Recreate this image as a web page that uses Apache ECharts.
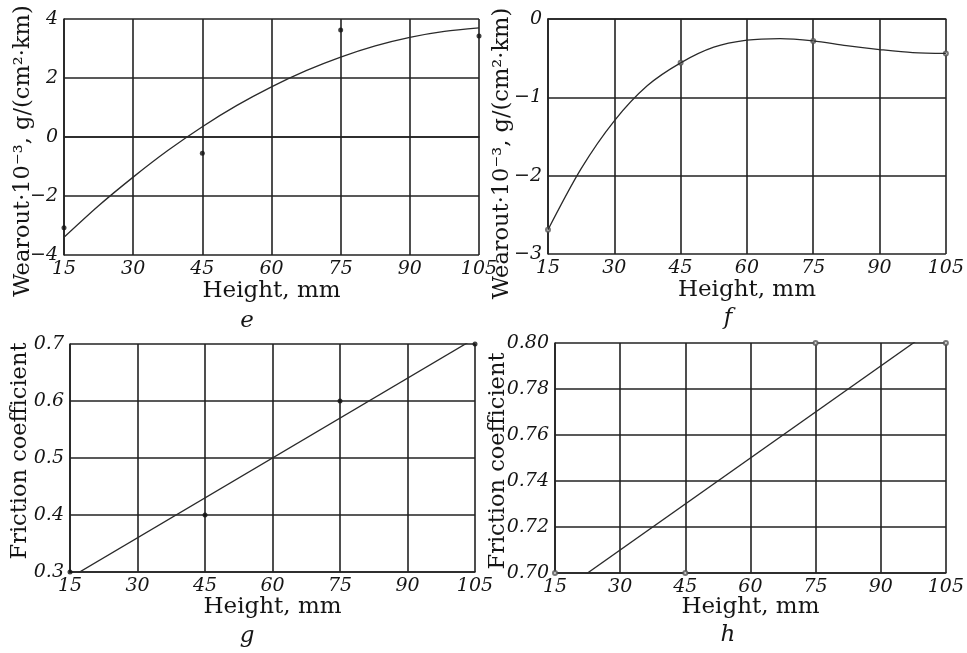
<!DOCTYPE html>
<html>
<head>
<meta charset="utf-8">
<script src="https://cdn.jsdelivr.net/npm/echarts@6/dist/echarts.min.js"></script>
<style>html,body{margin:0;padding:0;background:#fff}#c{width:967px;height:653px}</style>
</head>
<body>
<div id="c"></div>
<script>
// ---- data ----
const xTicks = [15, 30, 45, 60, 75, 90, 105];
const measuredHeights = [15, 45, 75, 105];
const curveHeights = [15, 22.5, 30, 37.5, 45, 52.5, 60, 67.5, 75, 82.5, 90, 97.5, 105];

// panel e: wearout
const eMeasured = [-3.08, -0.55, 3.63, 3.42];
const eCurve = [-3.40, -2.33, -1.36, -0.46, 0.35, 1.07, 1.70, 2.25, 2.71, 3.09, 3.38, 3.58, 3.70];
const eTicks = [-4, -2, 0, 2, 4];

// panel f: wearout
const fMeasured = [-2.69, -0.56, -0.28, -0.44];
const fCurve = [-2.69, -1.91, -1.30, -0.85, -0.56, -0.36, -0.27, -0.25, -0.28, -0.34, -0.39, -0.43, -0.44];
const fTicks = [-3, -2, -1, 0];

// panel g: friction coefficient
const gMeasured = [0.30, 0.40, 0.60, 0.70];
const gTrendHeights = [15, 105];
const gTrend = [0.29, 0.71];
const gTicks = [0.3, 0.4, 0.5, 0.6, 0.7];

// panel h: friction coefficient
const hMeasured = [0.70, 0.70, 0.80, 0.80];
const hTrendHeights = [15, 105];
const hTrend = [0.69, 0.81];
const hTicks = [0.70, 0.72, 0.74, 0.76, 0.78, 0.80];

const panelLetters = ['e', 'f', 'g', 'h'];
const xName = 'Height, mm';
const wearName = 'Wearout\u00B710\u207B\u00B3, g/(cm\u00B2\u00B7km)';
const fricName = 'Friction coefficient';

// ---- styling ----
const FONT = '"DejaVu Serif", serif';
const INK = '#151515';
const GRIDC = '#222';
const pair = (xs, ys) => xs.map((x, i) => [x, ys[i]]);
const fmtMinus = (d) => (v) => {
  const s = v.toFixed(d);
  return s.replace('-', '\u2212');
};

const grids = [
  {left: 64, top: 19, width: 415, height: 236},
  {left: 548, top: 19, width: 410, height: 235},
  {left: 70, top: 344, width: 405, height: 228},
  {left: 555, top: 343, width: 402, height: 230}
];

function xAxis(i, gap) {
  return {
    type: 'value', gridIndex: i, min: 15, max: 105, interval: 15,
    name: xName, nameLocation: 'middle', nameGap: gap, nameMoveOverlap: false,
    nameTextStyle: {fontFamily: FONT, fontSize: 23, color: INK},
    axisLine: {show: true, lineStyle: {color: GRIDC, width: 1.6}},
    axisTick: {show: false},
    axisLabel: {fontFamily: FONT, fontStyle: 'italic', fontSize: 19, color: INK, margin: 5},
    splitLine: {show: true, lineStyle: {color: GRIDC, width: 1.6}}
  };
}
function yAxis(i, ticks, dec, name, gap, pad) {
  return {
    type: 'value', gridIndex: i, min: ticks[0], max: ticks[ticks.length - 1],
    interval: +(ticks[1] - ticks[0]).toFixed(4),
    name: name, nameLocation: 'middle', nameGap: gap, nameRotate: 90, nameMoveOverlap: false,
    nameTextStyle: {fontFamily: FONT, fontSize: 22.5, color: INK, padding: pad},
    axisLine: {show: true, onZero: false, lineStyle: {color: GRIDC, width: 1.6}},
    axisTick: {show: false},
    axisLabel: {fontFamily: FONT, fontStyle: 'italic', fontSize: 19, color: INK, margin: 6,
      formatter: fmtMinus(dec)},
    splitLine: {show: true, lineStyle: {color: GRIDC, width: 1.6}}
  };
}

const lineStyle = {color: '#2a2a2a', width: 1.3};
const series = [
  {type: 'line', xAxisIndex: 0, yAxisIndex: 0, data: pair(curveHeights, eCurve), smooth: 0.3,
   showSymbol: false, lineStyle: lineStyle},
  {type: 'scatter', xAxisIndex: 0, yAxisIndex: 0, data: pair(measuredHeights, eMeasured),
   symbol: 'circle', symbolSize: 5, itemStyle: {color: '#111'}},
  {type: 'line', xAxisIndex: 1, yAxisIndex: 1, data: pair(curveHeights, fCurve), smooth: 0.3,
   showSymbol: false, lineStyle: lineStyle},
  {type: 'scatter', xAxisIndex: 1, yAxisIndex: 1, data: pair(measuredHeights, fMeasured),
   symbol: 'emptyCircle', symbolSize: 4, itemStyle: {color: '#555', borderWidth: 1}},
  {type: 'line', xAxisIndex: 2, yAxisIndex: 2, data: pair(gTrendHeights, gTrend),
   showSymbol: false, lineStyle: lineStyle, clip: true},
  {type: 'scatter', xAxisIndex: 2, yAxisIndex: 2, data: pair(measuredHeights, gMeasured),
   symbol: 'circle', symbolSize: 5, itemStyle: {color: '#111'}, clip: false},
  {type: 'line', xAxisIndex: 3, yAxisIndex: 3, data: pair(hTrendHeights, hTrend),
   showSymbol: false, lineStyle: lineStyle, clip: true},
  {type: 'scatter', xAxisIndex: 3, yAxisIndex: 3, data: pair(measuredHeights, hMeasured),
   symbol: 'emptyCircle', symbolSize: 4, itemStyle: {color: '#555', borderWidth: 1}, clip: false}
];

const letterPos = [[247, 321], [728, 318], [247, 636], [728, 635]];
const graphic = panelLetters.map((t, i) => ({
  type: 'text', x: letterPos[i][0], y: letterPos[i][1],
  style: {text: t, font: 'italic 23px ' + FONT, fill: INK, align: 'center', verticalAlign: 'middle'}
}));

const chart = echarts.init(document.getElementById('c'), null, {renderer: 'canvas'});
chart.setOption({
  animation: false,
  backgroundColor: '#fff',
  grid: grids,
  xAxis: [xAxis(0, 25), xAxis(1, 25), xAxis(2, 24), xAxis(3, 23)],
  yAxis: [
    yAxis(0, eTicks, 0, wearName, 29, [0, 28, 0, 0]),
    yAxis(1, fTicks, 0, wearName, 34, [0, 34, 0, 0]),
    yAxis(2, gTicks, 1, fricName, 38, [0, 0, 0, 14]),
    yAxis(3, hTicks, 2, fricName, 45, [0, 6, 0, 0])
  ],
  series: series,
  graphic: graphic
});
</script>
</body>
</html>
